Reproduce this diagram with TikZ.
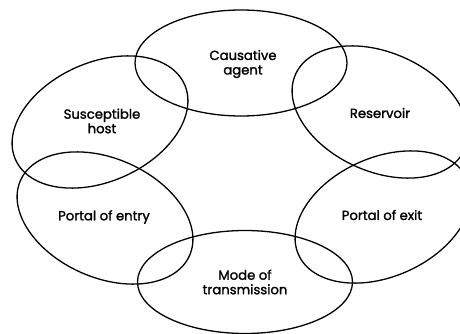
\documentclass[tikz,border=0pt]{standalone}
\usepackage{fontspec}
\setmainfont{Poppins}[FakeBold=1.6]
\usetikzlibrary{shapes.geometric}

\tikzset{
  ring/.style={draw, ellipse, line width=1.3pt, inner sep=0pt,
    minimum width=185pt, minimum height=119pt},
  flat/.style={ring, minimum width=212pt, minimum height=106pt},
  caption/.style={align=center, font=\fontsize{13.2}{14.5}\selectfont}
}

\begin{document}
\begin{tikzpicture}[x=1pt, y=-1pt]

  \useasboundingbox (0, 0) rectangle (460, 334);

  \node[flat] (agent) at (241, 63) {};
  \node[ring, rotate=-24] (res) at (380, 112) {};
  \node[ring, rotate=24] (exit) at (383, 217) {};
  \node[flat, minimum width=215pt, minimum height=103pt] (mode) at (245, 282) {};
  \node[ring, rotate=-24] (entry) at (105, 218) {};
  \node[ring, rotate=24] (host) at (100, 122) {};

  \node[caption] (agenttext) at (243, 64) {Causative\\agent};
  \node[caption] (restext) at (380, 113) {Reservoir};
  \node[caption] (exittext) at (382, 215) {Portal of exit};
  \node[caption] (modetext) at (245, 282) {Mode of\\transmission};
  \node[caption] (entrytext) at (104, 217) {Portal of entry};
  \node[caption] (hosttext) at (102, 121) {Susceptible\\host};

\end{tikzpicture}
\end{document}
